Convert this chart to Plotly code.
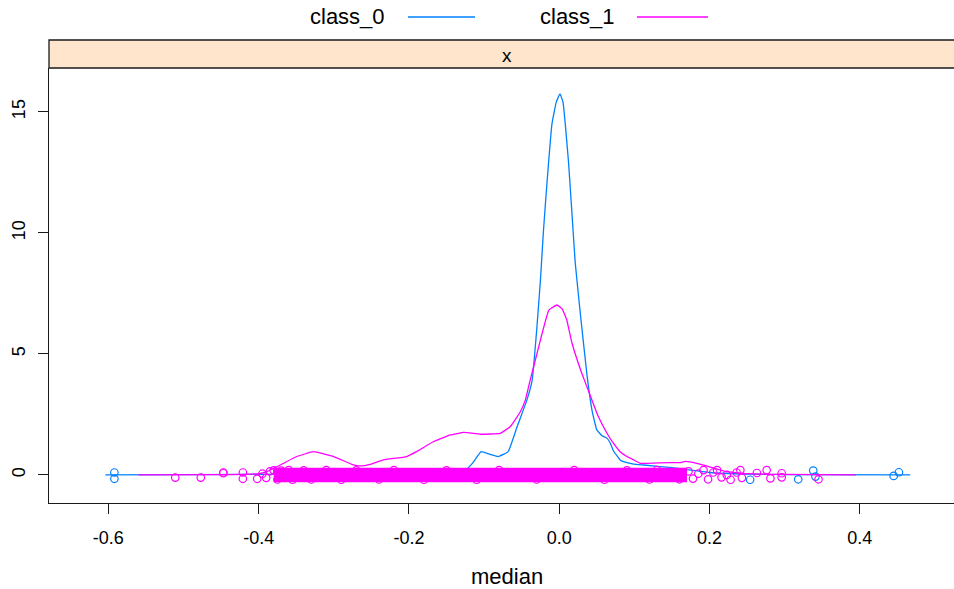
import plotly.graph_objects as go

# ---- data ----
class_names = ["class_0", "class_1"]
colors = ["#0080ff", "#ff00ff"]

# density curve class_0
c0_x = [-0.604, -0.40, -0.20, -0.125, -0.115, -0.104, -0.092, -0.081, -0.068, -0.056,
        -0.043, -0.036, -0.030, -0.025, -0.021, -0.016, -0.0097, -0.004, 0.001, 0.005,
        0.008, 0.0124, 0.0169, 0.0213, 0.028, 0.037, 0.044, 0.050, 0.057, 0.0635,
        0.068, 0.072, 0.081, 0.0856, 0.099, 0.112, 0.15, 0.20, 0.25, 0.30, 0.467]
c0_y = [0.0, 0.02, 0.1, 0.2, 0.5, 0.96, 0.85, 0.76, 0.96, 2.0,
        3.1, 3.93, 6.0, 8.06, 10.1, 12.2, 14.5, 15.4, 15.74, 15.4,
        14.5, 12.9, 10.8, 8.75, 6.68, 4.1, 2.6, 1.86, 1.62, 1.52,
        1.31, 1.0, 0.62, 0.55, 0.45, 0.41, 0.3, 0.1, 0.03, 0.01, 0.0]

# density curve class_1
c1_x = [-0.56, -0.45, -0.40, -0.389, -0.367, -0.35, -0.327, -0.30, -0.274, -0.265,
        -0.25, -0.234, -0.203, -0.19, -0.167, -0.145, -0.127, -0.105, -0.0785, -0.065,
        -0.052, -0.045, -0.0386, -0.034, -0.025, -0.014, -0.003, 0.004, 0.010, 0.017,
        0.030, 0.041, 0.052, 0.0635, 0.072, 0.081, 0.09, 0.099, 0.108, 0.117,
        0.148, 0.161, 0.168, 0.183, 0.195, 0.205, 0.22, 0.25, 0.30, 0.395]
c1_y = [0.0, 0.01, 0.05, 0.14, 0.48, 0.75, 0.96, 0.76, 0.41, 0.37,
        0.45, 0.62, 0.76, 0.96, 1.38, 1.65, 1.76, 1.68, 1.72, 2.0,
        2.6, 3.1, 3.93, 4.48, 5.58, 6.8, 7.02, 6.85, 6.4, 5.44,
        4.2, 3.3, 2.41, 1.72, 1.31, 0.96, 0.76, 0.62, 0.48, 0.48,
        0.51, 0.51, 0.56, 0.48, 0.38, 0.29, 0.15, 0.05, 0.02, 0.0]

# individually visible (jittered) points
c0_pts_x = [-0.592, -0.592, 0.254, 0.318, 0.338, 0.341, 0.445, 0.452]
c0_pts_y = [0.10, -0.16, -0.20, -0.18, 0.18, -0.07, -0.04, 0.11]

c1_pts_x = [-0.511, -0.477, -0.447, -0.447, -0.421, -0.421, -0.402, -0.395, -0.39, -0.385,
            -0.38, -0.37, -0.36, -0.34, -0.31, -0.27, -0.22, -0.15, -0.08, 0.02, 0.09, 0.13,
            -0.375, -0.355, -0.33, -0.29, -0.24, -0.18, -0.11, -0.03, 0.06, 0.12, 0.16,
            0.172, 0.178, 0.185, 0.192, 0.198, 0.205, 0.21, 0.216, 0.223, 0.228,
            0.236, 0.241, 0.243, 0.263, 0.276, 0.281, 0.296, 0.296, 0.345]
c1_pts_y = [-0.11, -0.11, 0.07, 0.10, 0.10, -0.16, -0.16, 0.05, -0.12, 0.15,
            0.19, 0.18, 0.20, 0.19, 0.20, 0.19, 0.20, 0.19, 0.20, 0.20, 0.19, 0.20,
            -0.19, -0.20, -0.19, -0.20, -0.19, -0.20, -0.20, -0.19, -0.20, -0.19, -0.18,
            0.15, -0.15, 0.05, 0.20, -0.18, 0.10, 0.20, -0.10, 0.0, -0.2,
            0.10, 0.20, -0.12, 0.08, 0.20, -0.14, 0.07, -0.10, -0.18]

# region where class_1 points overlap into a solid band
band_x = [-0.38, 0.17]
band_half = 0.30

x_ticks = [-0.6, -0.4, -0.2, 0.0, 0.2, 0.4]
y_ticks = [0, 5, 10, 15]
x_range = [-0.679, 0.5253]
y_range = [-1.16, 16.81]
strip_label = "x"
x_title = "median"

# ---- figure ----
fig = go.Figure()
mk = dict(symbol="circle-open", size=7.5, line=dict(width=1.2))

fig.add_trace(go.Scatter(x=c0_pts_x, y=c0_pts_y, mode="markers",
                         marker=dict(color=colors[0], **mk), hoverinfo="skip"))
fig.add_trace(go.Scatter(x=c0_x, y=c0_y, mode="lines",
                         line=dict(color=colors[0], width=1.3, shape="spline", smoothing=0.3)))
fig.add_trace(go.Scatter(x=[band_x[0], band_x[1], band_x[1], band_x[0], band_x[0]],
                         y=[-band_half, -band_half, band_half, band_half, -band_half],
                         mode="lines", fill="toself", fillcolor=colors[1],
                         line=dict(color=colors[1], width=0), hoverinfo="skip"))
fig.add_trace(go.Scatter(x=c1_pts_x, y=c1_pts_y, mode="markers",
                         marker=dict(color=colors[1], **mk), hoverinfo="skip"))
fig.add_trace(go.Scatter(x=c1_x, y=c1_y, mode="lines",
                         line=dict(color=colors[1], width=1.3, shape="spline", smoothing=0.3)))

W, H = 954, 589
L, R, T, B = 49, 0, 68, 86
pw, ph = W - L - R, H - T - B

def px(xp):
    return (xp - L) / pw

def py(yp):
    return (H - B - yp) / ph

font = "Liberation Sans, Arial, sans-serif"
shapes = []
annotations = []

def label(text, xp, yp, size):
    annotations.append(dict(text=text, xref="paper", yref="paper", x=px(xp), y=py(yp),
                            xanchor="center", yanchor="middle", showarrow=False,
                            font=dict(size=size, color="#000", family=font)))

# strip
shapes.append(dict(type="rect", xref="paper", yref="paper", x0=0, x1=1.05,
                   y0=1, y1=py(40), fillcolor="#ffe5cc",
                   line=dict(color="#1a1a1a", width=1.3), layer="above"))
label(strip_label, 507, 55, 19)

# legend (text then line)
leg_text_x = [347, 577]
leg_line_x = [(408, 475), (637, 708)]
for name, col, tx, (l0, l1) in zip(class_names, colors, leg_text_x, leg_line_x):
    label(name, tx, 17, 22)
    shapes.append(dict(type="line", xref="paper", yref="paper", x0=px(l0), x1=px(l1),
                       y0=py(17), y1=py(17), line=dict(color=col, width=1.3)))

label(x_title, 507, 576, 22)

fig.update_layout(
    width=W, height=H, margin=dict(l=L, r=R, t=T, b=B),
    paper_bgcolor="white", plot_bgcolor="white", showlegend=False,
    shapes=shapes, annotations=annotations,
    font=dict(family=font, color="#000"),
    xaxis=dict(range=x_range, tickvals=x_ticks, ticktext=[f"{v:.1f}" for v in x_ticks],
               showgrid=False, zeroline=False, showline=True, linecolor="#1a1a1a",
               linewidth=1.3, ticks="outside", ticklen=10, tickcolor="#1a1a1a",
               ticklabelstandoff=8,
               tickfont=dict(size=18, family=font, color="#000")),
    yaxis=dict(range=y_range, tickvals=y_ticks, showgrid=False, zeroline=False,
               showline=True, linecolor="#1a1a1a", linewidth=1.3, ticks="outside",
               ticklen=10, tickcolor="#1a1a1a", tickangle=-90, ticklabelstandoff=6,
               tickfont=dict(size=18, family=font, color="#000")),
)

fig.write_html("out.html")
